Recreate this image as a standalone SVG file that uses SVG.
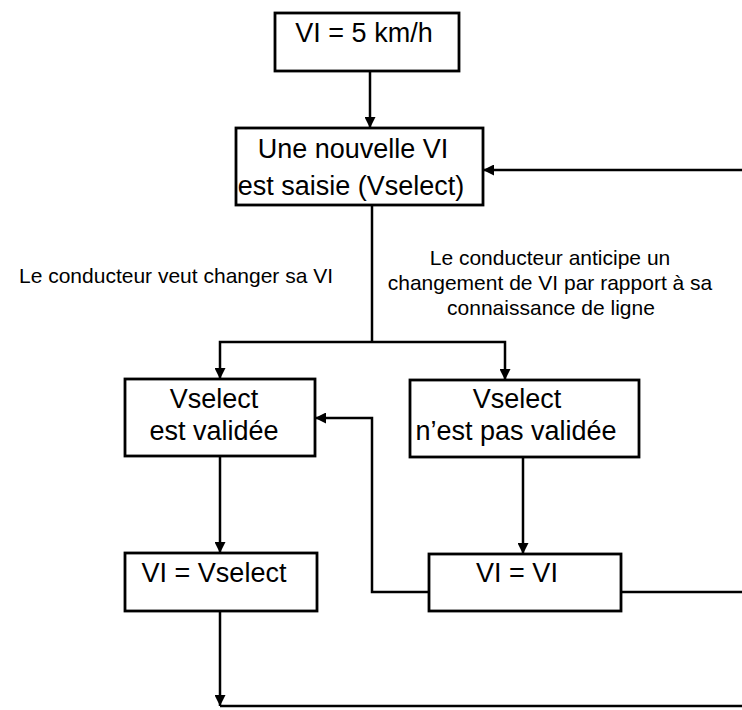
<svg xmlns="http://www.w3.org/2000/svg" width="742" height="710" viewBox="0 0 742 710">
<style>
.box{fill:#fff;stroke:#000;stroke-width:2.8}
.t{font-family:"Liberation Sans",Arial,sans-serif;font-size:27px;fill:#000;text-anchor:middle}
.lbl{font-family:"Liberation Sans",Arial,sans-serif;font-size:21px;fill:#000}
.c{fill:none;stroke:#000;stroke-width:2.5}
</style>
<defs>
<marker id="ah" viewBox="0 0 10 10" refX="10" refY="5" markerWidth="12" markerHeight="11" markerUnits="userSpaceOnUse" orient="auto">
<path d="M0,0 L10,5 L0,10 z" fill="#000"/>
</marker>
</defs>
<rect width="742" height="710" fill="#fff"/>
<g id="connectors">
<path class="c" d="M370,71 V128" marker-end="url(#ah)"/>
<path class="c" d="M742,170 H483" marker-end="url(#ah)"/>
<path class="c" d="M372,205 V342"/>
<path class="c" d="M372,342 H220 V379" marker-end="url(#ah)"/>
<path class="c" d="M372,342 H505 V380" marker-end="url(#ah)"/>
<path class="c" d="M429,592 H372 V418 H315" marker-end="url(#ah)"/>
<path class="c" d="M220,456 V553" marker-end="url(#ah)"/>
<path class="c" d="M523,457 V554" marker-end="url(#ah)"/>
<path class="c" d="M621,592 H742"/>
<path class="c" d="M220,611 V706" marker-end="url(#ah)"/>
<path class="c" d="M220,706 H742" stroke-width="3"/>
</g>
<g id="n1"><rect class="box" x="275" y="13" width="184" height="58"/><text class="t" x="364" y="42">VI = 5 km/h</text></g>
<g id="n2"><rect class="box" x="236" y="128" width="247" height="77"/><text class="t" x="353" y="158">Une nouvelle VI</text><text class="t" x="351" y="195">est saisie (Vselect)</text></g>
<g id="lbl1"><text class="lbl" x="19" y="283">Le conducteur veut changer sa VI</text></g>
<g id="lbl2"><text class="lbl" text-anchor="middle" x="550" y="265">Le conducteur anticipe un</text><text class="lbl" text-anchor="middle" x="550" y="290">changement de VI par rapport à sa</text><text class="lbl" text-anchor="middle" x="551" y="315">connaissance de ligne</text></g>
<g id="n3"><rect class="box" x="125" y="379" width="190" height="77"/><text class="t" x="214" y="408">Vselect</text><text class="t" x="214" y="440">est validée</text></g>
<g id="n4"><rect class="box" x="410" y="380" width="229" height="77"/><text class="t" x="517" y="408">Vselect</text><text class="t" x="516" y="440">n’est pas validée</text></g>
<g id="n5"><rect class="box" x="125" y="553" width="192" height="58"/><text class="t" x="214" y="582">VI = Vselect</text></g>
<g id="n6"><rect class="box" x="429" y="554" width="192" height="57"/><text class="t" x="517" y="582">VI = VI</text></g>
</svg>
